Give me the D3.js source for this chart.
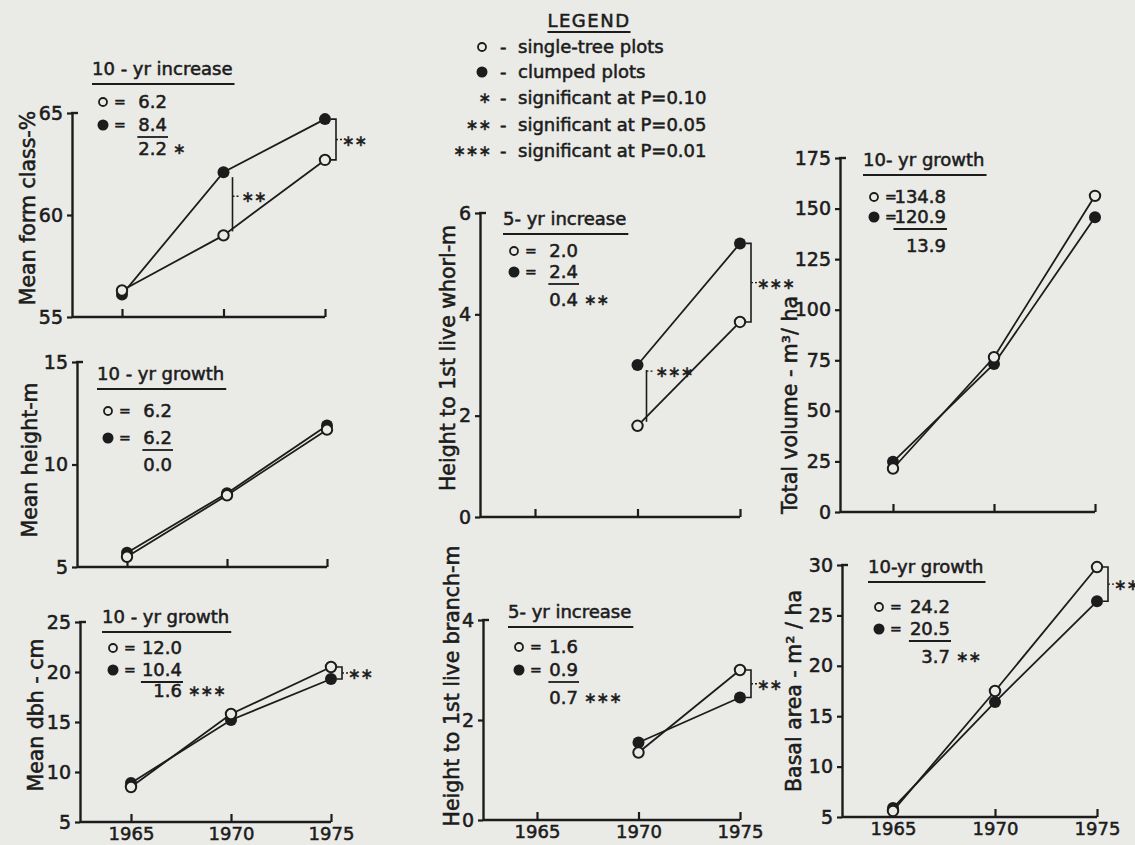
<!DOCTYPE html>
<html>
<head>
<meta charset="utf-8">
<script src="https://cdn.jsdelivr.net/npm/d3@7"></script>
<style>
  body { margin: 0; background: #eaeae7; }
  svg text { font-family: "DejaVu Sans", sans-serif; fill: #1c1c1c; stroke: #1c1c1c; stroke-width: 0.55px; }
</style>
</head>
<body>
<div id="chart"></div>
<script>
// Measurement years
const years = [1965, 1970, 1975];

// Mean form class (%)
const formOpen = [56.3, 59.0, 62.7];
const formClosed = [56.1, 62.1, 64.7];
const formTicks = [55, 60, 65];
const formSummary = ["10 - yr increase", "6.2", "8.4", "2.2", "∗"];
const formSig = [{year: 1970, stars: "∗∗", kind: "bar"}, {year: 1975, stars: "∗∗", kind: "bracket"}];

// Mean height (m)
const heightOpen = [5.5, 8.5, 11.7];
const heightClosed = [5.7, 8.6, 11.9];
const heightTicks = [5, 10, 15];
const heightSummary = ["10 - yr growth", "6.2", "6.2", "0.0", ""];
const heightSig = [];

// Mean dbh (cm)
const dbhOpen = [8.5, 15.8, 20.5];
const dbhClosed = [8.9, 15.2, 19.3];
const dbhTicks = [5, 10, 15, 20, 25];
const dbhSummary = ["10 - yr growth", "12.0", "10.4", "1.6", "∗∗∗"];
const dbhSig = [{year: 1975, stars: "∗∗", kind: "bracket"}];

// Height to 1st live whorl (m)
const whorlOpen = [null, 1.8, 3.85];
const whorlClosed = [null, 3.0, 5.4];
const whorlTicks = [0, 2, 4, 6];
const whorlSummary = ["5- yr increase", "2.0", "2.4", "0.4", "∗∗"];
const whorlSig = [{year: 1970, stars: "∗∗∗", kind: "bar"}, {year: 1975, stars: "∗∗∗", kind: "bracket"}];

// Height to 1st live branch (m)
const branchOpen = [null, 1.35, 3.0];
const branchClosed = [null, 1.55, 2.45];
const branchTicks = [0, 2, 4];
const branchSummary = ["5- yr increase", "1.6", "0.9", "0.7", "∗∗∗"];
const branchSig = [{year: 1975, stars: "∗∗", kind: "bracket"}];

// Total volume (m3/ha)
const volumeOpen = [21.5, 76.5, 156.3];
const volumeClosed = [24.8, 73.2, 145.7];
const volumeTicks = [0, 25, 50, 75, 100, 125, 150, 175];
const volumeSummary = ["10- yr growth", "134.8", "120.9", "13.9", ""];
const volumeSig = [];

// Basal area (m2/ha)
const basalOpen = [5.6, 17.5, 29.8];
const basalClosed = [5.9, 16.4, 26.4];
const basalTicks = [5, 10, 15, 20, 25, 30];
const basalSummary = ["10-yr growth", "24.2", "20.5", "3.7", "∗∗"];
const basalSig = [{year: 1975, stars: "∗∗", kind: "bracket"}];

// Legend
const legendSymbols = ["open", "filled", "∗", "∗∗", "∗∗∗"];
const legendLabels = ["single-tree plots", "clumped plots", "significant at P=0.10", "significant at P=0.05", "significant at P=0.01"];

const W = 1135, H = 845;
const ink = "#1c1c1c", paper = "#eaeae7";

const svg = d3.select("#chart").append("svg")
    .attr("width", W)
    .attr("height", H);

svg.append("rect").attr("width", W).attr("height", H).attr("fill", paper);

// panel layout (pixel positions)
const panels = [
  {open: formOpen, closed: formClosed, ticks: formTicks, summary: formSummary, sig: formSig,
   label: "Mean  form  class-%", x0: 72, xa: 122, xb: 325, yb: 317, yt: 113,
   lx: 35, ly: 208, bx: 92, by: 75, valEnd: 75, rows: [33, 56, 80], barFrac: 0.38, xLabels: false},
  {open: heightOpen, closed: heightClosed, ticks: heightTicks, summary: heightSummary, sig: heightSig,
   label: "Mean  height-m", x0: 77, xa: 127, xb: 327, yb: 567, yt: 362,
   lx: 37, ly: 460, bx: 97, by: 380, valEnd: 75, rows: [37, 64, 91], xLabels: false},
  {open: dbhOpen, closed: dbhClosed, ticks: dbhTicks, summary: dbhSummary, sig: dbhSig,
   label: "Mean  dbh - cm", x0: 80, xa: 131, xb: 331, yb: 822, yt: 622,
   lx: 43, ly: 715, bx: 102, by: 623, valEnd: 80, rows: [31, 53, 74], xLabels: true},
  {open: whorlOpen, closed: whorlClosed, ticks: whorlTicks, summary: whorlSummary, sig: whorlSig,
   label: "Height to 1st live whorl-m", x0: 480, xa: 535, xb: 740, yb: 517, yt: 213,
   lx: 455, ly: 358, bx: 503, by: 225, valEnd: 75, rows: [32, 53, 81], barFrac: 0.1, xLabels: false},
  {open: branchOpen, closed: branchClosed, ticks: branchTicks, summary: branchSummary, sig: branchSig,
   label: "Height to 1st live branch-m", x0: 483, xa: 537, xb: 740, yb: 820, yt: 620,
   lx: 459, ly: 686, bx: 508, by: 618, valEnd: 70, rows: [35, 58, 86], xLabels: true},
  {open: volumeOpen, closed: volumeClosed, ticks: volumeTicks, summary: volumeSummary, sig: volumeSig,
   label: "Total volume - m³/ ha", x0: 840, xa: 893, xb: 1095, yb: 512, yt: 158,
   lx: 797, ly: 405, bx: 863, by: 166, valEnd: 83, rows: [37, 57, 86], xLabels: false},
  {open: basalOpen, closed: basalClosed, ticks: basalTicks, summary: basalSummary, sig: basalSig,
   label: "Basal area - m² / ha", x0: 842, xa: 893, xb: 1097, yb: 817, yt: 565,
   lx: 801, ly: 691, bx: 868, by: 573, valEnd: 82, rows: [40, 62, 90], xLabels: true}
];

panels.forEach(drawPanel);
drawLegend();

function drawPanel(p) {
  const x = d3.scaleLinear().domain([years[0], years[2]]).range([p.xa, p.xb]);
  const y = d3.scaleLinear().domain(d3.extent(p.ticks)).range([p.yb, p.yt]);
  const g = svg.append("g");

  // y axis
  const yAxis = g.append("g")
      .attr("transform", `translate(${p.x0},0)`)
      .call(d3.axisLeft(y).tickValues(p.ticks).tickFormat(d3.format("d"))
        .tickSizeInner(5).tickSizeOuter(0).tickPadding(4));
  yAxis.select(".domain").attr("stroke", ink).attr("stroke-width", 2.4);
  yAxis.selectAll(".tick line").attr("stroke", ink).attr("stroke-width", 2.2);
  yAxis.selectAll(".tick text").style("font-size", "19px").attr("fill", ink);
  // little hook at the top
  g.append("line")
      .attr("x1", p.x0 - 1).attr("x2", p.x0 + 6)
      .attr("y1", p.yt).attr("y2", p.yt)
      .attr("stroke", ink).attr("stroke-width", 2.4);

  // x axis: baseline from y axis to the last year, ticks pointing up
  g.append("line")
      .attr("x1", p.x0).attr("x2", x(years[2]))
      .attr("y1", p.yb).attr("y2", p.yb)
      .attr("stroke", ink).attr("stroke-width", 2.4);
  const xAxis = g.append("g")
      .attr("transform", `translate(0,${p.yb})`)
      .call(d3.axisBottom(x).tickValues(years).tickFormat(d3.format("d"))
        .tickSizeInner(-8).tickSizeOuter(0).tickPadding(5));
  xAxis.select(".domain").remove();
  xAxis.selectAll(".tick line").attr("stroke", ink).attr("stroke-width", 2.2);
  xAxis.selectAll(".tick text").style("font-size", "18px").attr("fill", ink)
      .style("display", p.xLabels ? null : "none");

  // y label
  g.append("text")
      .attr("transform", `translate(${p.lx},${p.ly}) rotate(-90)`)
      .attr("text-anchor", "middle")
      .style("font-size", "20.5px")
      .text(p.label);

  // series
  const pts = arr => years.map((yr, i) => [yr, arr[i]]);
  const line = d3.line()
      .defined(d => d[1] != null)
      .x(d => x(d[0]))
      .y(d => y(d[1]));

  [p.open, p.closed].forEach(arr => {
    g.append("path")
        .datum(pts(arr))
        .attr("fill", "none")
        .attr("stroke", ink)
        .attr("stroke-width", 1.8)
        .attr("d", line);
  });

  g.selectAll(".closed")
      .data(pts(p.closed).filter(d => d[1] != null))
      .join("circle")
      .attr("cx", d => x(d[0]))
      .attr("cy", d => y(d[1]))
      .attr("r", 6)
      .attr("fill", ink);

  g.selectAll(".open")
      .data(pts(p.open).filter(d => d[1] != null))
      .join("circle")
      .attr("cx", d => x(d[0]))
      .attr("cy", d => y(d[1]))
      .attr("r", 5.2)
      .attr("fill", paper)
      .attr("stroke", ink)
      .attr("stroke-width", 2);

  // significance marks
  p.sig.forEach(s => {
    const i = years.indexOf(s.year);
    const ya = y(p.closed[i]), yb = y(p.open[i]);
    const top = Math.min(ya, yb), bot = Math.max(ya, yb);
    const xs = x(s.year);
    if (s.kind === "bar") {
      const bx = xs + 9;
      const my = top + (bot - top) * p.barFrac;
      g.append("line").attr("x1", bx).attr("x2", bx).attr("y1", top + 5).attr("y2", bot - 4)
          .attr("stroke", ink).attr("stroke-width", 1.6);
      g.append("line").attr("x1", bx).attr("x2", bx + 8).attr("y1", my).attr("y2", my)
          .attr("stroke", ink).attr("stroke-width", 1.4).attr("stroke-dasharray", "2,2");
      g.append("text").attr("x", bx + 9).attr("y", my + 6)
          .style("font-size", "15px").text(s.stars);
    } else {
      const vx = xs + 11;
      const my = (top + bot) / 2;
      g.append("path")
          .attr("d", `M${xs + 6},${top}H${vx}V${bot}H${xs + 6}`)
          .attr("fill", "none").attr("stroke", ink).attr("stroke-width", 1.6);
      g.append("line").attr("x1", vx).attr("x2", vx + 6).attr("y1", my).attr("y2", my)
          .attr("stroke", ink).attr("stroke-width", 1.4).attr("stroke-dasharray", "2,2");
      g.append("text").attr("x", vx + 6).attr("y", my + 6)
          .style("font-size", "15px").text(s.stars);
    }
  });

  // growth / increase summary box
  const [title, vOpen, vClosed, diff, diffStars] = p.summary;
  const t = g.append("text").attr("x", p.bx).attr("y", p.by)
      .style("font-size", "18px").text(title);
  const tw = t.node().getComputedTextLength();
  g.append("line").attr("x1", p.bx).attr("x2", p.bx + tw + 2)
      .attr("y1", p.by + 9).attr("y2", p.by + 9)
      .attr("stroke", ink).attr("stroke-width", 1.8);

  const cx = p.bx + 11;
  const ve = p.bx + p.valEnd;
  const r1 = p.by + p.rows[0], r2 = p.by + p.rows[1], r3 = p.by + p.rows[2];
  g.append("circle").attr("cx", cx).attr("cy", r1 - 6).attr("r", 4)
      .attr("fill", "none").attr("stroke", ink).attr("stroke-width", 1.8);
  g.append("circle").attr("cx", cx).attr("cy", r2 - 6).attr("r", 5.5).attr("fill", ink);
  [r1, r2].forEach(r => g.append("text").attr("x", cx + 11).attr("y", r - 1)
      .style("font-size", "14px").text("="));
  g.append("text").attr("x", ve).attr("y", r1).attr("text-anchor", "end")
      .style("font-size", "18px").text(vOpen);
  const vc = g.append("text").attr("x", ve).attr("y", r2).attr("text-anchor", "end")
      .style("font-size", "18px").text(vClosed);
  const vw = vc.node().getComputedTextLength();
  g.append("line").attr("x1", ve - vw - 1).attr("x2", ve + 1)
      .attr("y1", r2 + 6).attr("y2", r2 + 6)
      .attr("stroke", ink).attr("stroke-width", 1.8);
  g.append("text").attr("x", ve).attr("y", r3).attr("text-anchor", "end")
      .style("font-size", "18px").text(diff);
  if (diffStars) {
    g.append("text").attr("x", ve + 6).attr("y", r3 - 1)
        .style("font-size", "15px").text(diffStars);
  }
}

function drawLegend() {
  const g = svg.append("g");
  const head = g.append("text").attr("x", 589).attr("y", 27)
      .attr("text-anchor", "middle")
      .style("font-size", "18px").style("letter-spacing", "1.5px")
      .text("LEGEND");
  const hw = head.node().getComputedTextLength();
  g.append("line").attr("x1", 589 - hw / 2).attr("x2", 589 + hw / 2)
      .attr("y1", 32).attr("y2", 32)
      .attr("stroke", ink).attr("stroke-width", 1.8);

  const rowY = [53, 78, 104, 131, 157];
  legendLabels.forEach((lab, i) => {
    const sym = legendSymbols[i];
    const yy = rowY[i];
    if (sym === "open") {
      g.append("circle").attr("cx", 482).attr("cy", yy - 6).attr("r", 4)
          .attr("fill", "none").attr("stroke", ink).attr("stroke-width", 1.8);
    } else if (sym === "filled") {
      g.append("circle").attr("cx", 482).attr("cy", yy - 6).attr("r", 5.5).attr("fill", ink);
    } else {
      g.append("text").attr("x", 491).attr("y", yy - 1).attr("text-anchor", "end")
          .style("font-size", "15px").text(sym);
    }
    g.append("text").attr("x", 500).attr("y", yy).style("font-size", "18px").text("-");
    g.append("text").attr("x", 518).attr("y", yy).style("font-size", "18px").text(lab);
  });
}
</script>
</body>
</html>
